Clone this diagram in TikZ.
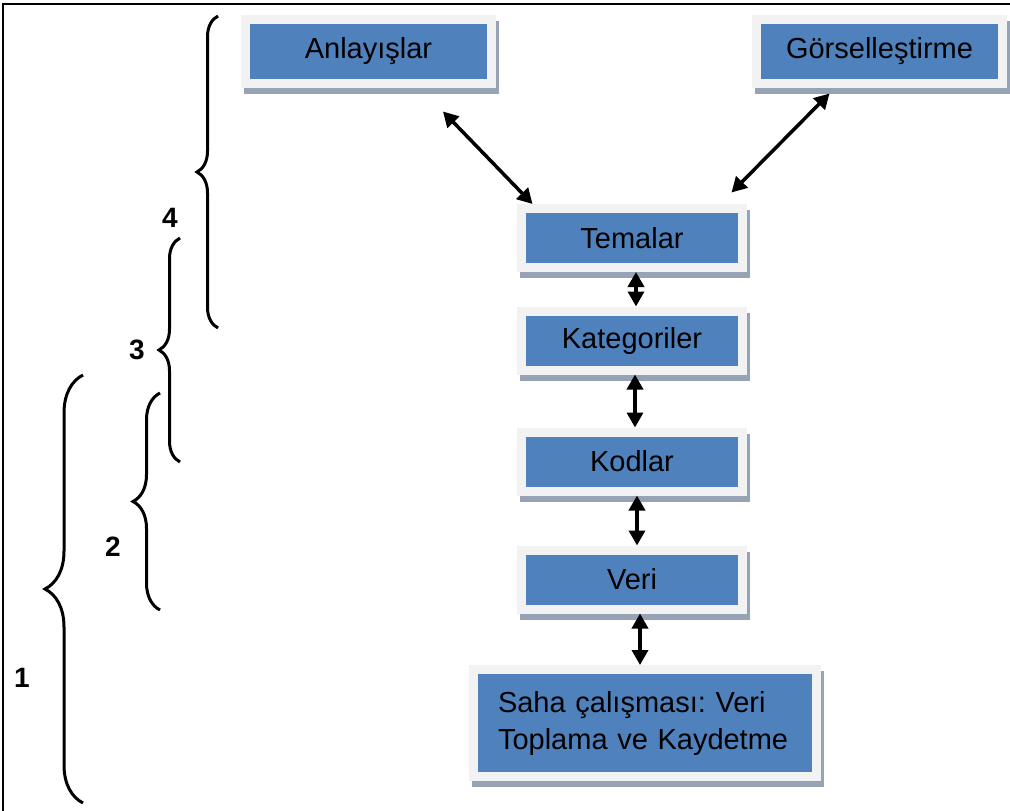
\documentclass[tikz,border=0pt]{standalone}
\usepackage{fontspec}
\setmainfont{Liberation Sans}
\usetikzlibrary{arrows.meta,shadows,decorations.pathreplacing}
\frenchspacing

\definecolor{boxblue}{RGB}{79,129,189}
\definecolor{boxframe}{RGB}{242,242,242}
\definecolor{boxshadow}{RGB}{149,163,181}

\begin{document}
\begin{tikzpicture}[x=1pt, y=-1pt, >={Triangle[length=15pt,width=16pt]},
  stagebox/.style={draw=boxframe, fill=boxblue, line width=9pt, inner sep=0pt,
    minimum width=221pt, minimum height=59pt, font=\fontsize{29}{37}\selectfont,
    drop shadow={shadow xshift=2.5pt, shadow yshift=-6pt, fill=boxshadow,
      draw=boxshadow, line width=9pt, opacity=1}},
  link/.style={<->, line width=3.5pt},
  brc/.style={decorate, line width=3pt},
  lvl/.style={font=\fontsize{28}{28}\selectfont\bfseries}]

\useasboundingbox (0,0) rectangle (1010,811);

% Frame
\draw[line width=1.8pt] (3,811) -- (3,4) -- (1010,4);

% Top boxes
\node[stagebox, minimum width=246pt, minimum height=64pt] (anl) at (368.5,51.5) {Anlayışlar};
\node[stagebox, minimum width=246pt, minimum height=64pt] (gor) at (879.5,51.5) {Görselleştirme};

% Middle column
\node[stagebox] (tem) at (632,238) {Temalar};
\node[stagebox] (kat) at (632,340.5) {Kategoriler};
\node[stagebox] (kod) at (632,461.5) {Kodlar};
\node[stagebox] (ver) at (632,579.5) {Veri};
\node[stagebox, minimum width=343pt, minimum height=107pt, text width=294pt, align=left]
  (saha) at (645,723) {Saha çalışması: Veri\\Toplama ve Kaydetme};

% Links
\draw[link] ([shift={(74.5pt,-23.5pt)}]anl.south) -- ([xshift=15.5pt]tem.north west);
\draw[link] ([shift={(-50pt,-5.5pt)}]gor.south) -- ([shift={(-15.5pt,11.5pt)}]tem.north east);
\draw[link] ([xshift=4pt]tem.south) -- ([xshift=4pt]kat.north);
\draw[link] ([xshift=3pt]kat.south) -- ([xshift=3pt]kod.north);
\draw[link] ([xshift=5pt]kod.south) -- ([xshift=5pt]ver.north);
\draw[link] ([xshift=8pt]ver.south) -- ([xshift=8pt]ver.south |- saha.north);

% Levels
\draw[brc, decoration={brace, amplitude=21pt}] (218,328) -- (218,16);
\draw[brc, decoration={brace, amplitude=21pt}] (180,462) -- (180,238);
\draw[brc, decoration={brace, amplitude=27pt}] (160,610) -- (160,393);
\draw[brc, decoration={brace, amplitude=38pt}] (83,803) -- (83,375);

\node[lvl] (n4) at (170,218) {4};
\node[lvl] (n3) at (137,350) {3};
\node[lvl] (n2) at (113,547) {2};
\node[lvl] (n1) at (22,678) {1};

\end{tikzpicture}
\end{document}
